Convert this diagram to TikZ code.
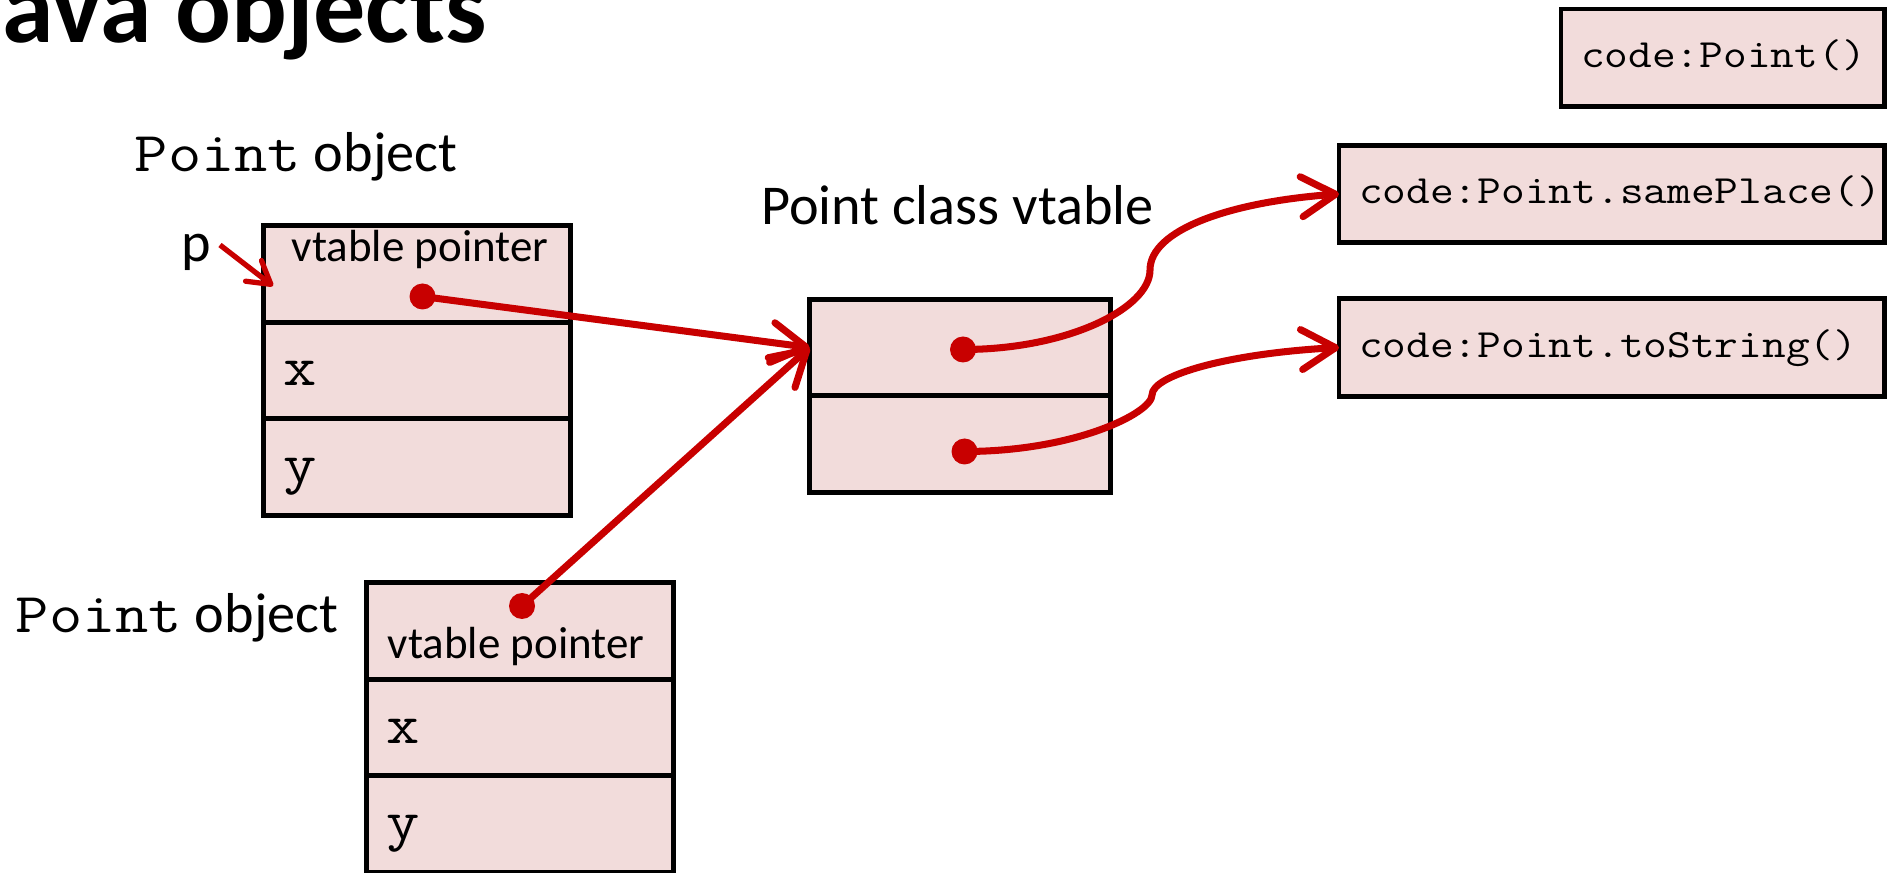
\documentclass[tikz,border=0pt]{standalone}
\usepackage{fontspec}
\setmainfont{Carlito}
\setmonofont{Latin Modern Mono}[FakeStretch=1.15]
\usepackage{tikz}
\usetikzlibrary{arrows.meta, positioning}
\definecolor{cellpink}{HTML}{F2DCDB}
\definecolor{ptrred}{HTML}{C80000}

\begin{document}
\begin{tikzpicture}[
            cell/.style={draw, line width=1.4pt, fill=cellpink, outer sep=0pt, inner sep=0pt, minimum height=0.965cm},
            field/.style={cell, text width=2.67cm, inner xsep=0.2cm, align=left, text height=0.31cm, text depth=0pt, font=\fontsize{16}{19}\ttfamily},
            slot/.style={cell, minimum width=3.01cm},
            codebox/.style={cell, inner xsep=0.2cm, align=left, minimum height=0.975cm, text height=0.3cm, text depth=0.1cm, font=\fontsize{11.4}{14}\ttfamily},
            lbl/.style={inner sep=0pt, anchor=base west, font=\fontsize{16}{19}\selectfont},
            tag/.style={inner sep=0pt, anchor=base, font=\fontsize{12.8}{15}\selectfont},
            ptr/.style={ptrred, line width=2pt, -{Straight Barb[length=0.34cm, width=0.4cm, round]}},
            thinptr/.style={ptrred, line width=1.5pt, -{Straight Barb[length=0.22cm, width=0.26cm, round]}},
            ptrdot/.style={circle, fill=ptrred, minimum size=0.26cm, inner sep=0pt}]
            \path[use as bounding box, fill=white] (0,0) rectangle (18.92,-8.73);
            \node[inner sep=0pt, anchor=base west, font=\fontsize{29.6}{35}\selectfont\bfseries] (title) at (0.02,-0.43) {ava objects};
            % first Point object
            \node[lbl] (obj1) at (1.34,-1.72) {\texttt{Point} object};
            \node[field] (p1v) at (4.17,-2.74) {};
            \node[field, below=0pt of p1v] (p1x) {x};
            \node[field, below=0pt of p1x] (p1y) {y};
            \node[tag] (p1t) at (4.20,-2.62) {vtable pointer};
            \node[lbl] (plbl) at (1.81,-2.62) {p};
            \coordinate (pfrom) at (2.20,-2.45);
            \coordinate (pto) at (2.73,-2.86);
            \draw[thinptr] (pfrom) -- (pto);
            % second Point object
            \node[lbl] (obj2) at (0.15,-6.32) {\texttt{Point} object};
            \node[field] (p2v) at (5.20,-6.31) {};
            \node[field, below=0pt of p2v] (p2x) {x};
            \node[field, below=0pt of p2x] (p2y) {y};
            \node[tag] (p2t) at (5.16,-6.58) {vtable pointer};
            % vtable
            \node[lbl] (vtlbl) at (7.605,-2.25) {Point class vtable};
            \node[slot] (vt1) at (9.60,-3.475) {};
            \node[slot, below=0pt of vt1] (vt2) {};
            % method code
            \node[codebox, text width=2.83cm] (ctor) at (17.225,-0.578) {code:Point()};
            \node[codebox, text width=5.05cm] (same) at (16.115,-1.94) {code:Point.samePlace()};
            \node[codebox, text width=5.05cm] (tostr) at (16.115,-3.475) {code:Point.toString()};
            % pointers
            \node[ptrdot] (d1) at (4.225,-2.965) {};
            \node[ptrdot] (d2) at (5.22,-6.06) {};
            \node[ptrdot] (d3) at (9.63,-3.495) {};
            \node[ptrdot] (d4) at (9.645,-4.515) {};
            \coordinate (b1) at (11.50,-2.70);
            \coordinate (b2) at (11.52,-3.95);
            \draw[ptr] (d1.center) -- (vt1.west);
            \draw[ptr] (d2.center) -- (vt1.west);
            \draw[ptr] (d3.center) .. controls +(1.05,0) and +(0,-0.38) .. (b1) .. controls +(0,0.40) and +(-1.10,-0.08) .. (same.west);
            \draw[ptr] (d4.center) .. controls +(1.10,0) and +(0,-0.18) .. (b2) .. controls +(0,0.20) and +(-1.10,-0.06) .. (tostr.west);
        \end{tikzpicture}
\end{document}
